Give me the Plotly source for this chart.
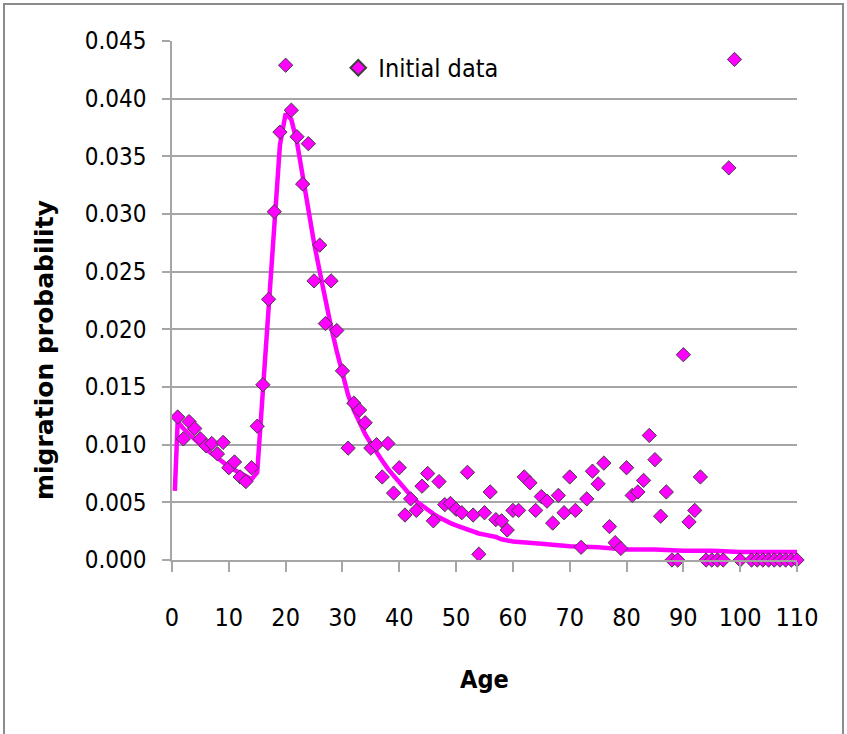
import plotly.graph_objects as go

# Observed migration probabilities by age (age 101 has no observation)
ages = list(range(1, 101)) + list(range(102, 111))
initial_data = [
    0.0124, 0.0105, 0.0120, 0.0114, 0.0105, 0.0099, 0.0101, 0.0092, 0.0102, 0.0080,
    0.0085, 0.0072, 0.0068, 0.0080, 0.0116, 0.0152, 0.0226, 0.0302, 0.0371, 0.0429,
    0.0390, 0.0367, 0.0326, 0.0361, 0.0242, 0.0273, 0.0205, 0.0242, 0.0199, 0.0164,
    0.0097, 0.0136, 0.0130, 0.0119, 0.0097, 0.0100, 0.0072, 0.0101, 0.0058, 0.0080,
    0.0039, 0.0053, 0.0043, 0.0064, 0.0075, 0.0034, 0.0068, 0.0048, 0.0049, 0.0044,
    0.0041, 0.0076, 0.0039, 0.0005, 0.0041, 0.0059, 0.0035, 0.0034, 0.0026, 0.0043,
    0.0043, 0.0072, 0.0067, 0.0043, 0.0055, 0.0051, 0.0032, 0.0056, 0.0041, 0.0072,
    0.0043, 0.0011, 0.0053, 0.0077, 0.0066, 0.0084, 0.0029, 0.0015, 0.0010, 0.0080,
    0.0056, 0.0059, 0.0069, 0.0108, 0.0087, 0.0038, 0.0059, 0.0000, 0.0000, 0.0178,
    0.0033, 0.0043, 0.0072, 0.0000, 0.0000, 0.0000, 0.0000, 0.0340, 0.0434, 0.0000,
    0.0000, 0.0000, 0.0000, 0.0000, 0.0000, 0.0000, 0.0000, 0.0000, 0.0000,
]

# Fitted model curve
curve_ages = [0.5] + list(range(1, 61)) + [65, 70, 75, 80, 85, 90, 95, 100, 105, 110]
curve_values = [
    0.0060,
    0.0120, 0.0114, 0.0109, 0.0104, 0.0100, 0.0096, 0.0092, 0.0088, 0.0085, 0.0081,
    0.0078, 0.0075, 0.0072, 0.0070, 0.0076, 0.0150, 0.0226, 0.0300, 0.0360, 0.0387,
    0.0382, 0.0362, 0.0332, 0.0302, 0.0275, 0.0250, 0.0225, 0.0202, 0.0181, 0.0162,
    0.0143, 0.0130, 0.0119, 0.0109, 0.0101, 0.0093, 0.0086, 0.0079, 0.0073, 0.0067,
    0.0061, 0.0056, 0.0051, 0.0047, 0.0043, 0.0040, 0.0037, 0.0034, 0.0032, 0.0030,
    0.0028, 0.0026, 0.0025, 0.0023, 0.0022, 0.0021, 0.0020, 0.0018, 0.0017, 0.0016,
    0.0014, 0.0012, 0.0011, 0.0009, 0.0009, 0.0008, 0.0008, 0.0007, 0.0007, 0.0007,
]

x_ticks = list(range(0, 111, 10))
y_ticks = [0.0, 0.005, 0.010, 0.015, 0.020, 0.025, 0.030, 0.035, 0.040, 0.045]
y_tick_text = ["%.3f" % v for v in y_ticks]

NARROW = "DejaVu Sans Condensed, Liberation Sans Narrow, sans-serif"
GRID = "#a6a6a6"

fig = go.Figure()
fig.add_trace(go.Scatter(
    x=curve_ages, y=curve_values, mode="lines",
    line=dict(color="#ff00ff", width=4.5, shape="linear"),
    showlegend=False, hoverinfo="skip",
))
fig.add_trace(go.Scatter(
    x=ages, y=initial_data, mode="markers", name="Initial data",
    marker=dict(symbol="diamond", size=11, color="#ff00ff",
                line=dict(color="#404040", width=1)),
    cliponaxis=False,
))

fig.update_layout(
    width=847, height=734,
    margin=dict(l=172, r=50, t=41, b=174),
    paper_bgcolor="white", plot_bgcolor="white",
    font=dict(family=NARROW, color="black"),
    showlegend=True,
    legend=dict(x=0.266, y=0.948, xanchor="left", yanchor="middle",
                bgcolor="rgba(0,0,0,0)", font=dict(family=NARROW, size=25),
                itemsizing="constant"),
    shapes=[dict(type="rect", xref="paper", yref="paper",
                 x0=(4 - 172) / 625, x1=(843 - 172) / 625,
                 y0=(560 - 760) / 519, y1=(560 - 4) / 519,
                 line=dict(color="#8c8c8c", width=2), layer="below")],
    annotations=[dict(text="<b>migration probability</b>", textangle=-90,
                      xref="paper", yref="paper",
                      x=(44 - 172) / 625, y=(560 - 350) / 519,
                      xanchor="center", yanchor="middle", showarrow=False,
                      font=dict(family="DejaVu Sans, Verdana, sans-serif", size=25))],
)
fig.update_xaxes(
    range=[0, 110], tickmode="array", tickvals=x_ticks,
    ticks="outside", ticklen=10, tickcolor=GRID, tickwidth=1.5,
    showline=True, linecolor=GRID, linewidth=1.5,
    showgrid=False, zeroline=False,
    tickfont=dict(family=NARROW, size=25), ticklabelstandoff=24,
    title=dict(text="<b>Age</b>", font=dict(family=NARROW, size=25), standoff=40),
)
fig.update_yaxes(
    range=[0, 0.045], tickmode="array", tickvals=y_ticks, ticktext=y_tick_text,
    ticks="outside", ticklen=8, tickcolor=GRID, tickwidth=1.5,
    showline=True, linecolor=GRID, linewidth=1.5,
    showgrid=True, gridcolor=GRID, gridwidth=1.5, zeroline=False,
    tickfont=dict(family=NARROW, size=24), ticklabelstandoff=11,
)

fig.write_html("out.html")
